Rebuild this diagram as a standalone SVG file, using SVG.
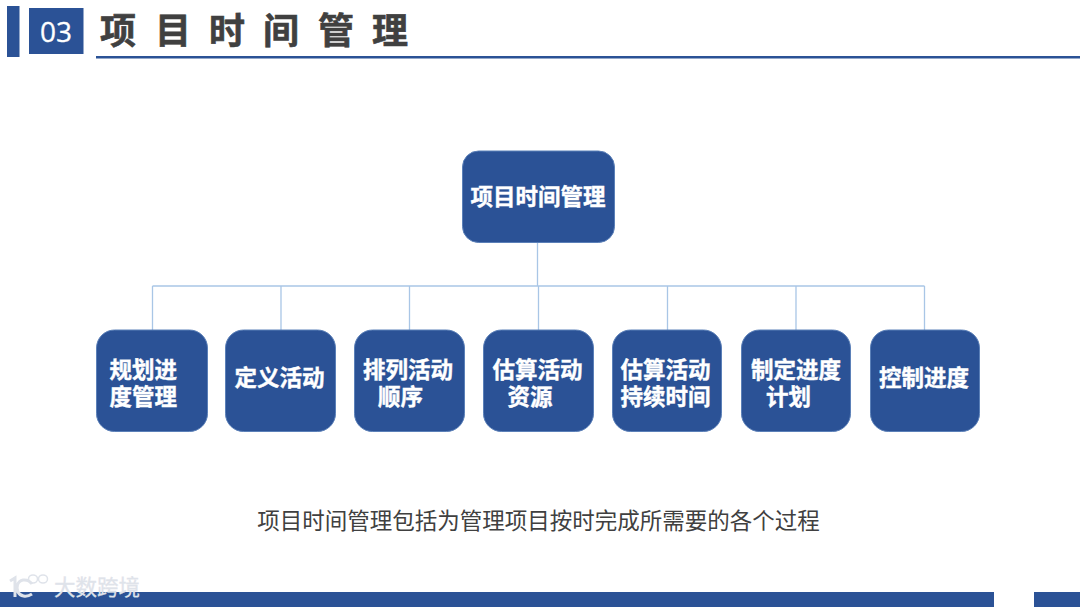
<svg xmlns="http://www.w3.org/2000/svg" width="1080" height="607" viewBox="0 0 1080 607">
<style>
.bar{fill:#2b5296}
.node{fill:#2b5296;stroke:#5b80b8;stroke-width:1}
.t{font-family:"Noto Sans CJK SC","Microsoft YaHei",sans-serif;font-weight:700;font-size:22.5px;fill:#fff;stroke:#fff;stroke-width:.4}
.title{font-family:"Noto Sans CJK SC",sans-serif;font-weight:700;font-size:36px;fill:#404040;stroke:#404040;stroke-width:.6}
.link{fill:none;stroke:#a9c6e6;stroke-width:1.3}
</style>
<rect width="1080" height="607" fill="#fff"/>
<g id="header">
<rect class="bar" x="7" y="6" width="12.500" height="51"/>
<rect class="bar" x="29" y="8" width="54.500" height="46"/>
<text x="56" y="42" text-anchor="middle" font-family="'Open Sans',sans-serif" font-size="28" fill="#fff" stroke="#fff" stroke-width=".3">03</text>
<text class="title" y="44"><tspan x="100">项</tspan><tspan x="155">目</tspan><tspan x="209">时</tspan><tspan x="263">间</tspan><tspan x="318">管</tspan><tspan x="372">理</tspan></text>
<rect class="bar" x="96" y="56" width="984" height="2.500"/>
</g>
<g id="connectors">
<path class="link" d="M537.500 243V286M152.500 286H924.500M152.500 286V330M281 286V330M409.500 286V330M538.500 286V330M667.500 286V330M796 286V330M924.500 286V330"/>
</g>
<g id="root"><rect class="node" x="462.500" y="151" width="152" height="91.500" rx="16"/><text class="t" x="538" y="205" text-anchor="middle">项目时间管理</text></g>
<g id="n1"><rect class="node" x="96.500" y="330" width="111" height="101.500" rx="18"/><text class="t"><tspan x="109.500" y="378">规划进</tspan><tspan x="109.500" y="405">度管理</tspan></text></g>
<g id="n2"><rect class="node" x="225.500" y="330" width="110" height="101.500" rx="18"/><text class="t" x="279.500" y="386" text-anchor="middle">定义活动</text></g>
<g id="n3"><rect class="node" x="354.500" y="330" width="110" height="101.500" rx="18"/><text class="t"><tspan x="363" y="378">排列活动</tspan><tspan x="378" y="405">顺序</tspan></text></g>
<g id="n4"><rect class="node" x="483.500" y="330" width="110" height="101.500" rx="18"/><text class="t"><tspan x="492.500" y="378">估算活动</tspan><tspan x="507.500" y="405">资源</tspan></text></g>
<g id="n5"><rect class="node" x="612.500" y="330" width="109" height="101.500" rx="18"/><text class="t"><tspan x="620.500" y="378">估算活动</tspan><tspan x="620.500" y="405">持续时间</tspan></text></g>
<g id="n6"><rect class="node" x="741.500" y="330" width="109" height="101.500" rx="18"/><text class="t"><tspan x="751" y="378">制定进度</tspan><tspan x="766" y="405">计划</tspan></text></g>
<g id="n7"><rect class="node" x="870.500" y="330" width="109" height="101.500" rx="18"/><text class="t" x="924" y="386" text-anchor="middle">控制进度</text></g>
<text x="538.500" y="529" text-anchor="middle" font-family="'Noto Sans CJK SC',sans-serif" font-size="22.500" fill="#404040">项目时间管理包括为管理项目按时完成所需要的各个过程</text>
<g id="footer">
<rect class="bar" x="0" y="592" width="994" height="15"/>
<rect class="bar" x="1034" y="592" width="46" height="15"/>
</g>
<g id="watermark">
<path d="M10 581l5-3v19M32 584a9.500 9.500 0 0 0-9-4c-6 1-7 8-5 12s8 6 14 2" fill="none" stroke="#dfe3ea" stroke-width="3"/>
<ellipse cx="33" cy="579" rx="4.500" ry="4" fill="none" stroke="#dfe3ea" stroke-width="1.500"/>
<ellipse cx="43" cy="579" rx="4.500" ry="4" fill="none" stroke="#dfe3ea" stroke-width="1.500"/>
<text x="54" y="595" font-family="'Noto Sans CJK SC',sans-serif" font-size="21.500" fill="#dfe3ea" stroke="#dfe3ea" stroke-width=".3">大数跨境</text>
</g>
</svg>
